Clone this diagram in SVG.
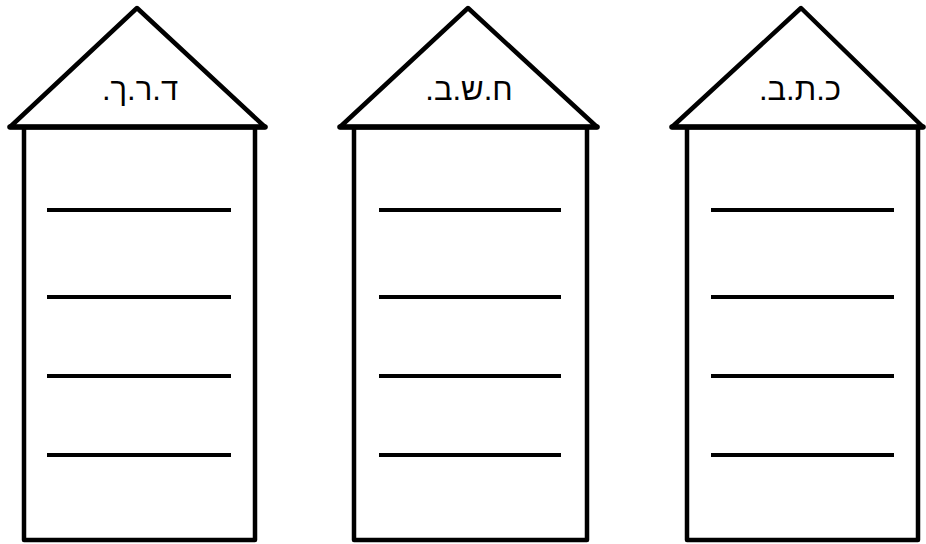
<svg xmlns="http://www.w3.org/2000/svg" width="926" height="544" viewBox="0 0 926 544">
<style>
.roof{fill:#fff;stroke:#000;stroke-width:4.5;stroke-linejoin:round}
.base{stroke:#000;stroke-width:5.5;stroke-linecap:round}
.body{fill:#fff;stroke:#000;stroke-width:4.5;stroke-linejoin:round}
.ln{stroke:#000;stroke-width:3.8}
.lbl{font-family:"Liberation Sans","DejaVu Sans",sans-serif;font-size:31px;fill:#000;text-anchor:middle;direction:rtl;unicode-bidi:embed}
</style>
<rect width="926" height="544" fill="#fff"/>
<g id="house1">
<rect class="body" x="24" y="127" width="231" height="413"/>
<polygon class="roof" points="10,127 137,8 265,127"/>
<line class="base" x1="10" y1="127" x2="265" y2="127"/>
<text class="lbl" x="140" y="100">ד.ר.ך.</text>
<line class="ln" x1="47" y1="210" x2="231" y2="210"/>
<line class="ln" x1="47" y1="297" x2="231" y2="297"/>
<line class="ln" x1="47" y1="376" x2="231" y2="376"/>
<line class="ln" x1="47" y1="455" x2="231" y2="455"/>
</g>
<g id="house2">
<rect class="body" x="354" y="127" width="233" height="413"/>
<polygon class="roof" points="340,127 468,8 597,127"/>
<line class="base" x1="340" y1="127" x2="597" y2="127"/>
<text class="lbl" x="469" y="100">ח.ש.ב.</text>
<line class="ln" x1="379" y1="210" x2="561" y2="210"/>
<line class="ln" x1="379" y1="297" x2="561" y2="297"/>
<line class="ln" x1="379" y1="376" x2="561" y2="376"/>
<line class="ln" x1="379" y1="455" x2="561" y2="455"/>
</g>
<g id="house3">
<rect class="body" x="687" y="127" width="231" height="413"/>
<polygon class="roof" points="672,127 801,8 923,127"/>
<line class="base" x1="672" y1="127" x2="923" y2="127"/>
<text class="lbl" x="800" y="100">כ.ת.ב.</text>
<line class="ln" x1="711" y1="210" x2="894" y2="210"/>
<line class="ln" x1="711" y1="297" x2="894" y2="297"/>
<line class="ln" x1="711" y1="376" x2="894" y2="376"/>
<line class="ln" x1="711" y1="455" x2="894" y2="455"/>
</g>
<g id="connectors"/>
</svg>
